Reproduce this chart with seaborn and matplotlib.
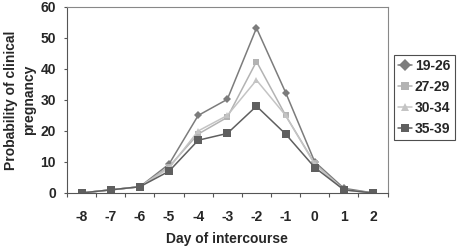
import matplotlib
matplotlib.use("Agg")
import matplotlib.pyplot as plt
import seaborn as sns
import pandas as pd
import numpy as np

days = ["-8", "-7", "-6", "-5", "-4", "-3", "-2", "-1", "0", "1", "2"]
age_groups = ["19-26", "27-29", "30-34", "35-39"]
v_19_26 = [0, 1, 2, 9.3, 25, 30.2, 53.2, 32.4, 10, 1.5, 0]
v_27_29 = [0, 1, 2, 8.5, 19, 24.4, 42.4, 25, 9.5, 1, 0]
v_30_34 = [0, 1, 2, 8, 20, 25, 36.4, 25, 9.2, 1, 0]
v_35_39 = [0, 1, 2, 7, 17, 19.2, 28, 19, 8.2, 1, 0]

series = [v_19_26, v_27_29, v_30_34, v_35_39]
rows = []
for g, vals in zip(age_groups, series):
    for i, (d, v) in enumerate(zip(days, vals)):
        rows.append({"pos": i, "day": d, "group": g, "value": v})
df = pd.DataFrame(rows)

sns.set_theme(style="white")
plt.rcParams['font.family'] = ['Liberation Sans', 'DejaVu Sans']

fig = plt.figure(figsize=(4.6, 2.48), dpi=100)
ax = fig.add_axes([0.1457, 0.222, 0.697, 0.75])

palette = {"19-26": "#7c7c7c", "27-29": "#b3b3b3", "30-34": "#c4c4c4", "35-39": "#5f5f5f"}
markers = {"19-26": "D", "27-29": "s", "30-34": "^", "35-39": "s"}
sizes_m = {"19-26": 4.2, "27-29": 5, "30-34": 5, "35-39": 5.5}

sns.lineplot(data=df, x="pos", y="value", hue="group", style="group",
             palette=palette, markers=markers, dashes=False, ax=ax,
             linewidth=1.1, markeredgewidth=0, legend=True)
for line, g in zip(ax.lines, age_groups):
    line.set_markersize(sizes_m[g])

ax.set_xlim(-0.5, 10.5)
ax.set_ylim(0, 60)
ax.set_xticks(range(len(days)))
ax.set_xticklabels(days, fontsize=10, fontweight="bold")
ax.set_xticks(np.arange(-0.5, 11, 1), minor=True)
ax.tick_params(axis="x", which="major", length=0, pad=12)
ax.tick_params(axis="x", which="minor", length=3, width=0.8, color="#555555", direction="out", bottom=True)
ax.set_yticks([0, 10, 20, 30, 40, 50, 60])
ax.set_yticklabels(["0", "10", "20", "30", "40", "50", "60"], fontsize=10, fontweight="bold")
ax.tick_params(axis="y", length=2, width=0.8, color="#555555", direction="out", left=True, pad=6)

for s in ax.spines.values():
    s.set_color("#888888")
    s.set_linewidth(0.8)
ax.spines["bottom"].set_color("#555555")
ax.spines["left"].set_color("#555555")

ax.set_xlabel("Day of intercourse", fontsize=10, fontweight="bold", labelpad=6)
ax.set_ylabel("Probability of clinical\npregnancy", fontsize=10, fontweight="bold",
              labelpad=3, linespacing=1.35)

handles, labels = ax.get_legend_handles_labels()
leg = ax.legend(handles, labels, loc="upper left", bbox_to_anchor=(394/460, 1 - 55/248),
                bbox_transform=fig.transFigure,
                frameon=True, fancybox=False, fontsize=10, handlelength=1.0,
                handletextpad=0.2, borderpad=0.3, labelspacing=0.5, borderaxespad=0)
leg.get_frame().set_edgecolor("#222222")
leg.get_frame().set_linewidth(0.8)
for t in leg.get_texts():
    t.set_fontweight("bold")

fig.savefig("out.png", dpi=100)
